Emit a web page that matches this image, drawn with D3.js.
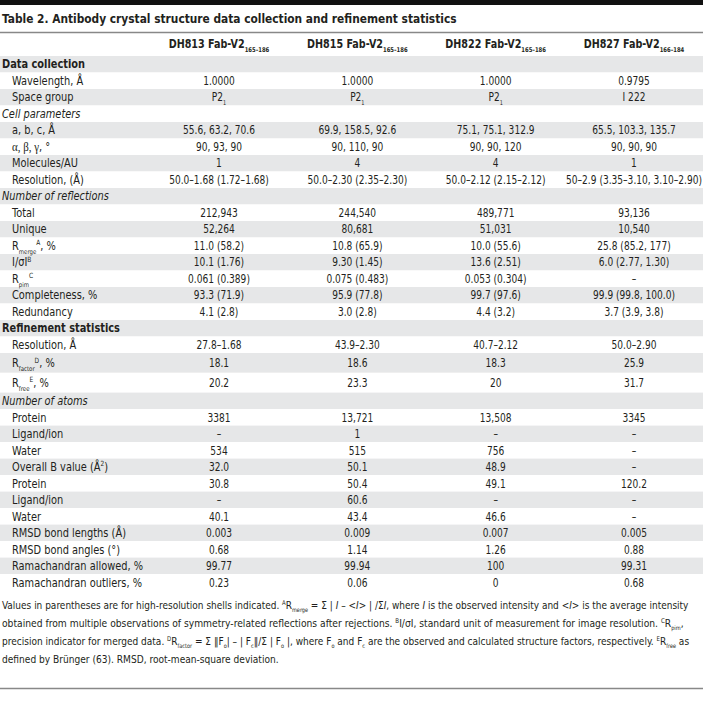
<!DOCTYPE html>
<html><head><meta charset="utf-8">
<script src="https://cdn.jsdelivr.net/npm/d3@7"></script>
<style>
body{margin:0;background:#fff}
svg{display:block}
text{font-family:"DejaVu Sans Condensed","Liberation Sans Narrow",sans-serif;fill:#231f20}
</style>
</head><body><svg id="c" width="703" height="713"></svg>
<script>
// ---------- data ----------
const title = "Table 2. Antibody crystal structure data collection and refinement statistics";
const columns = ["DH813 Fab-V2_{165–186}", "DH815 Fab-V2_{165–186}", "DH822 Fab-V2_{165–186}", "DH827 Fab-V2_{166–184}"];
const rowLabels = ["Data collection", "Wavelength, Å", "Space group", "Cell parameters", "a, b, c, Å", "~{α, β, γ}, °",
  "Molecules/AU", "Resolution, (Å)", "Number of reflections", "Total", "Unique", "R_{merge}^{A}, %", "I/σI^{B}",
  "R_{pim}^{C}", "Completeness, %", "Redundancy", "Refinement statistics", "Resolution, Å", "R_{factor}^{D}, %",
  "R_{free}^{E}, %", "Number of atoms", "Protein", "Ligand/ion", "Water", "Overall B value (Å^{2})", "Protein",
  "Ligand/ion", "Water", "RMSD bond lengths (Å)", "RMSD bond angles (°)", "Ramachandran allowed, %", "Ramachandran outliers, %"];
// b = bold section, i = italic section, r = regular row
const rowKinds = ["b","r","r","i","r","r","r","r","i","r","r","r","r","r","r","r","b","r","r","r","i","r","r","r","r","r","r","r","r","r","r","r"];
const dh813 = ["", "1.0000", "P2_{1}", "", "55.6, 63.2, 70.6", "90, 93, 90", "1", "50.0–1.68 (1.72–1.68)", "", "212,943", "52,264",
  "11.0 (58.2)", "10.1 (1.76)", "0.061 (0.389)", "93.3 (71.9)", "4.1 (2.8)", "", "27.8–1.68", "18.1", "20.2", "", "3381", "–",
  "534", "32.0", "30.8", "–", "40.1", "0.003", "0.68", "99.77", "0.23"];
const dh815 = ["", "1.0000", "P2_{1}", "", "69.9, 158.5, 92.6", "90, 110, 90", "4", "50.0–2.30 (2.35–2.30)", "", "244,540", "80,681",
  "10.8 (65.9)", "9.30 (1.45)", "0.075 (0.483)", "95.9 (77.8)", "3.0 (2.8)", "", "43.9–2.30", "18.6", "23.3", "", "13,721", "1",
  "515", "50.1", "50.4", "60.6", "43.4", "0.009", "1.14", "99.94", "0.06"];
const dh822 = ["", "1.0000", "P2_{1}", "", "75.1, 75.1, 312.9", "90, 90, 120", "4", "50.0–2.12 (2.15–2.12)", "", "489,771", "51,031",
  "10.0 (55.6)", "13.6 (2.51)", "0.053 (0.304)", "99.7 (97.6)", "4.4 (3.2)", "", "40.7–2.12", "18.3", "20", "", "13,508", "–",
  "756", "48.9", "49.1", "–", "46.6", "0.007", "1.26", "100", "0"];
const dh827 = ["", "0.9795", "I 222", "", "65.5, 103.3, 135.7", "90, 90, 90", "1", "50–2.9 (3.35–3.10, 3.10–2.90)", "", "93,136", "10,540",
  "25.8 (85.2, 177)", "6.0 (2.77, 1.30)", "–", "99.9 (99.8, 100.0)", "3.7 (3.9, 3.8)", "", "50.0–2.90", "25.9", "31.7", "", "3345", "–",
  "–", "–", "120.2", "–", "–", "0.005", "0.88", "99.31", "0.68"];
const footnotes = [
  "Values in parentheses are for high-resolution shells indicated. ^{A}R_{merge} = Σ | *I* – <*I*> | /Σ*I*, where *I* is the observed intensity and <*I*> is the average intensity",
  "obtained from multiple observations of symmetry-related reflections after rejections. ^{B}I/σI, standard unit of measurement for image resolution. ^{C}R_{pim},",
  "precision indicator for merged data. ^{D}R_{factor} = Σ ‖F_{o}| – | F_{c}‖/Σ | F_{o} |, where F_{o} and F_{c} are the observed and calculated structure factors, respectively. ^{E}R_{free} as",
  "defined by Brünger (63). RMSD, root-mean-square deviation."
];

// ---------- layout ----------
const W = 703;
const svg = d3.select("#c");
const values = [dh813, dh815, dh822, dh827];
const rows = rowLabels.map((l, i) => ({label: l, kind: rowKinds[i], vals: values.map(v => v[i]),
  units: /R_\{(factor|free)\}/.test(l) ? 1.2 : 1}));
const cum = [0, ...d3.cumsum(rows, r => r.units)];
const rowH = 16.5, top0 = 56;
const y = d3.scaleLinear().domain([0, cum[cum.length-1]]).range([top0, top0 + cum[cum.length-1]*rowH]);
const x = d3.scalePoint().domain(d3.range(columns.length)).range([219, 634]);

// rich text writer: _{sub} ^{sup} *italic* ~{serif}
function rich(sel, str, size) {
  const parts = str.split(/(_\{[^}]*\}|\^\{[^}]*\}|~\{[^}]*\}|\*[^*]*\*)/).filter(s => s.length);
  let shift = 0;
  parts.forEach(p => {
    let t, dy = 0, fs = null, it = false, serif = false;
    if (p.startsWith("_{")) { t = p.slice(2, -1); dy = size*0.3; fs = size*0.55; }
    else if (p.startsWith("^{")) { t = p.slice(2, -1); dy = -size*0.38; fs = size*0.6; }
    else if (p.startsWith("~{")) { t = p.slice(2, -1); serif = true; }
    else if (p.startsWith("*")) { t = p.slice(1, -1); it = true; }
    else t = p;
    const ts = sel.append("tspan").text(t).attr("dy", dy - shift);
    if (fs) ts.attr("font-size", fs);
    if (it) ts.attr("font-style", "italic");
    if (serif) ts.style("font-family", "'Liberation Serif','DejaVu Serif',serif");
    shift = dy;
  });
}
function put(parent, str, px, py, size, sx, anchor) {
  const t = parent.append("text").attr("transform", `translate(${px},${py}) scale(${sx},1)`)
    .attr("font-size", size).attr("text-anchor", anchor || "start");
  rich(t, str, size);
  return t;
}

// top bar and rules
svg.append("rect").attr("x", 0).attr("y", 0).attr("width", W).attr("height", 5).attr("fill", "#111");
put(svg, title, 2, 22.5, 13, 0.91).attr("font-weight", "bold");
svg.append("line").attr("x1", 0).attr("x2", W).attr("y1", 32.5).attr("y2", 32.5).attr("stroke", "#888").attr("stroke-width", 1.3);

// header
columns.forEach((c, j) => put(svg, c, x(j), 48, 12, 0.89, "middle").attr("font-weight", "bold"));

// row stripes
svg.append("g").selectAll("rect").data(rows).join("rect")
  .attr("x", 0).attr("width", W)
  .attr("y", (d, i) => y(cum[i])).attr("height", (d, i) => y(cum[i+1]) - y(cum[i]))
  .attr("fill", (d, i) => i % 2 === 0 ? "#e6e7e8" : "#fff");

// labels and values
const gl = svg.append("g");
rows.forEach((r, i) => {
  const cy = (y(cum[i]) + y(cum[i+1]))/2 + 4.2;
  const t = put(gl, r.label, r.kind === "r" ? 12 : 2, cy, 12, 0.91);
  if (r.kind === "b") t.attr("font-weight", "bold");
  if (r.kind === "i") t.attr("font-style", "italic");
  r.vals.forEach((v, j) => { if (v) put(gl, v, x(j), cy, 12, 0.84, "middle"); });
});

// footnotes (lines 1-3 fitted to the text block width, last line uses their mean scale)
const fTop = y(cum[cum.length-1]) + 18.5;
const fitW = [687, 682, 688];
const sc = [];
footnotes.forEach((f, k) => {
  const t = put(svg, f, 2, fTop + k*18, 11, 1);
  const s = k < 3 ? fitW[k] / t.node().getComputedTextLength() : d3.mean(sc);
  sc.push(s);
  t.attr("transform", `translate(2,${fTop + k*18}) scale(${s},1)`);
});
svg.append("line").attr("x1", 0).attr("x2", W).attr("y1", 688.5).attr("y2", 688.5).attr("stroke", "#888").attr("stroke-width", 1.3);
</script>
</body></html>
